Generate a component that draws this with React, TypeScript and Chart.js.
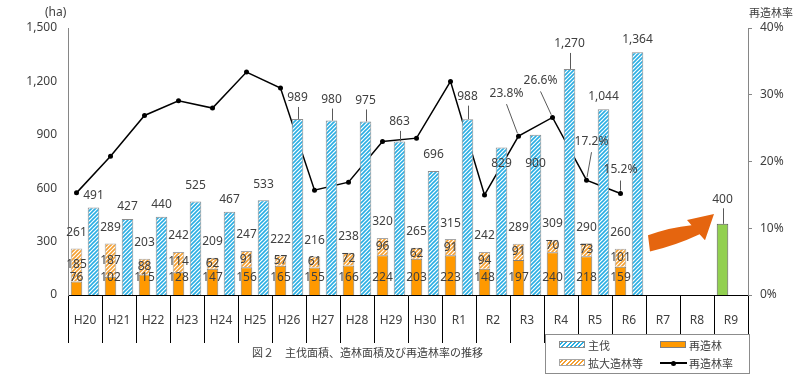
import React, { useEffect, useRef } from 'react';
import { Chart, registerables } from 'chart.js';

Chart.register(...registerables);

// ---------- data ----------
const categories = ['H20', 'H21', 'H22', 'H23', 'H24', 'H25', 'H26', 'H27', 'H28', 'H29', 'H30', 'R1', 'R2', 'R3', 'R4', 'R5', 'R6', 'R7', 'R8', 'R9'];
// 主伐 (ha)
const harvest = [491, 427, 440, 525, 467, 533, 989, 980, 975, 863, 696, 988, 829, 900, 1270, 1044, 1364, null, null, null];
// 再造林 (ha)
const reforest = [76, 102, 115, 128, 147, 156, 165, 155, 166, 224, 203, 223, 148, 197, 240, 218, 159, null, null, null];
// 拡大造林等 (ha)
const expansion = [185, 187, 88, 114, 62, 91, 57, 61, 72, 96, 62, 91, 94, 91, 70, 73, 101, null, null, null];
// 造林面積合計 (label values as printed)
const plantedTotal = [261, 289, 203, 242, 209, 247, 222, 216, 238, 320, 265, 315, 242, 289, 309, 290, 260, null, null, null];
// 目標 (R9)
const target = [null, null, null, null, null, null, null, null, null, null, null, null, null, null, null, null, null, null, null, 400];
// 再造林率 (%)
const rate = [15.3, 20.8, 26.9, 29.1, 28.0, 33.4, 31.0, 15.7, 16.9, 23.0, 23.5, 32.0, 15.0, 23.8, 26.6, 17.2, 15.2, null, null, null];
// labelled rate points
const rateLabelled = ['R3', 'R4', 'R5', 'R6'];

const leftMax = 1500;
const leftStep = 300;
const rightMax = 40;
const rightStep = 10;

// ---------- styling / placement ----------
const FONT = '"Noto Sans", "Noto Sans CJK JP", sans-serif';
const TEXT = '#404040';
const HARVEST_RAISE_DEFAULT = 12.5;
const HARVEST_RAISE: Record<string, number> = {
  H23: 15.5, H25: 16, H26: 21, H27: 21, H28: 21, H29: 19.5, H30: 17, R1: 22.5, R2: -16, R3: -29, R4: 25, R9: 24.5,
};
const RATE_LABEL_OFFSET: Record<string, [number, number]> = {
  R3: [-12, -43], R4: [-12, -37], R5: [5, -39], R6: [0, -24],
};

// Each year has two slots on a hidden category axis: the planting stack (and the
// rate point) in the first, the harvest bar in the second.
const halfSlotLabels = categories.flatMap((c) => [c + '-plant', c + '-harvest']);
const inPlantSlot = (vals: (number | null)[]) => vals.flatMap((v) => [v, null]);
const inHarvestSlot = (vals: (number | null)[]) => vals.flatMap((v) => [null, v]);
const BAR_OPTS = { xAxisID: 'xHalf', grouped: false, barPercentage: 0.68, categoryPercentage: 1 };

function hatch(ctx: CanvasRenderingContext2D, color: string) {
  const c = document.createElement('canvas');
  c.width = 4; c.height = 4;
  const g = c.getContext('2d')!;
  g.fillStyle = '#ffffff';
  g.fillRect(0, 0, 4, 4);
  g.strokeStyle = color;
  g.lineWidth = 1.6;
  g.beginPath();
  g.moveTo(0, 4); g.lineTo(4, 0);
  g.moveTo(-1, 1); g.lineTo(1, -1);
  g.moveTo(3, 5); g.lineTo(5, 3);
  g.stroke();
  return ctx.createPattern(c, 'repeat')!;
}

const labelPlugin = {
  id: 'valueLabels',
  afterDatasetsDraw(chart: any) {
    const ctx: CanvasRenderingContext2D = chart.ctx;
    const yS = chart.scales.y;
    const base = yS.getPixelForValue(0);
    const mRe = chart.getDatasetMeta(0);
    const mEx = chart.getDatasetMeta(1);
    const mTg = chart.getDatasetMeta(2);
    const mHv = chart.getDatasetMeta(3);
    const mRt = chart.getDatasetMeta(4);
    ctx.save();
    ctx.font = `12px ${FONT}`;
    ctx.fillStyle = TEXT;
    ctx.strokeStyle = '#595959';
    ctx.lineWidth = 1;
    ctx.textAlign = 'center';
    ctx.textBaseline = 'middle';

    const topLabel = (x: number, top: number, text: string, cat: string) => {
      const raise = HARVEST_RAISE[cat] ?? HARVEST_RAISE_DEFAULT;
      const cy = top - raise;
      if (raise >= 18) {
        ctx.beginPath();
        ctx.moveTo(Math.round(x) + 0.5, cy + 9);
        ctx.lineTo(Math.round(x) + 0.5, top);
        ctx.stroke();
      }
      ctx.fillText(text, x, cy);
    };

    categories.forEach((cat, i) => {
      const pi = i * 2, hi = i * 2 + 1;
      if (reforest[i] != null) {
        const bRe = mRe.data[pi];
        const bEx = mEx.data[pi];
        ctx.fillText(String(reforest[i]), bRe.x, base - 17);
        ctx.fillText(String(expansion[i]), bEx.x, (bEx.y + bEx.base) / 2);
        ctx.fillText(String(plantedTotal[i]), bEx.x, bEx.y - 16);
      }
      if (harvest[i] != null) {
        const b = mHv.data[hi];
        topLabel(b.x, b.y, (harvest[i] as number).toLocaleString('en-US'), cat);
      }
      if (target[i] != null) {
        const b = mTg.data[pi];
        topLabel(b.x, b.y, (target[i] as number).toLocaleString('en-US'), cat);
      }
      if (rateLabelled.includes(cat) && rate[i] != null) {
        const p = mRt.data[pi];
        const [dx, dy] = RATE_LABEL_OFFSET[cat];
        const lx = p.x + dx, ly = p.y + dy;
        ctx.beginPath();
        ctx.moveTo(lx, ly + 11);
        const vx = p.x - lx, vy = p.y - (ly + 11);
        const len = Math.hypot(vx, vy);
        ctx.lineTo(p.x - (vx / len) * 3, p.y - (vy / len) * 3);
        ctx.stroke();
        ctx.fillText(`${(rate[i] as number).toFixed(1)}%`, lx, ly);
      }
    });
    ctx.restore();
  },
};

const ARROW_FROM_CAT = 17; // R7
const ARROW_TO_CAT = 19;   // R9
const ARROW_FROM_VALUE = 290;
const ARROW_TO_VALUE = 455;

const arrowPlugin = {
  id: 'targetArrow',
  afterDatasetsDraw(chart: any) {
    const ctx: CanvasRenderingContext2D = chart.ctx;
    const xS = chart.scales.x, yS = chart.scales.y;
    const half = (xS.getPixelForValue(1) - xS.getPixelForValue(0)) / 2;
    const tx = xS.getPixelForValue(ARROW_FROM_CAT) - half + 2;
    const ty = yS.getPixelForValue(ARROW_FROM_VALUE);
    const px = xS.getPixelForValue(ARROW_TO_CAT) - half;
    const py = yS.getPixelForValue(ARROW_TO_VALUE);
    const sx = (px - tx) / 66, sy = (py - ty) / -29;
    const pt = (a: number, b: number): [number, number] => [tx + a * sx, ty + b * sy];
    ctx.save();
    ctx.fillStyle = '#E5650F';
    ctx.beginPath();
    let q = pt(0, -8); ctx.moveTo(q[0], q[1]);
    let c = pt(22, -16); q = pt(43.5, -18); ctx.quadraticCurveTo(c[0], c[1], q[0], q[1]);
    q = pt(39, -23); ctx.lineTo(q[0], q[1]);
    q = pt(66, -29); ctx.lineTo(q[0], q[1]);
    q = pt(57, -3); ctx.lineTo(q[0], q[1]);
    q = pt(51.6, -9); ctx.lineTo(q[0], q[1]);
    c = pt(28, 2); q = pt(2, 8); ctx.quadraticCurveTo(c[0], c[1], q[0], q[1]);
    ctx.closePath();
    ctx.fill();
    ctx.restore();
  },
};

export default function App() {
  const ref = useRef<HTMLCanvasElement>(null);

  useEffect(() => {
    const canvas = ref.current!;
    const ctx = canvas.getContext('2d')!;
    const blue = hatch(ctx, '#2AAEE3');
    const orangeHatch = hatch(ctx, '#F5A031');
    const chart = new Chart(canvas, {
      type: 'bar',
      data: {
        labels: categories,
        datasets: [
          { label: '再造林', data: inPlantSlot(reforest), stack: 'plant', backgroundColor: '#FF9900', borderColor: '#7F7F7F', borderWidth: 1, ...BAR_OPTS },
          { label: '拡大造林等', data: inPlantSlot(expansion), stack: 'plant', backgroundColor: orangeHatch, borderColor: '#A6A6A6', borderWidth: 1, ...BAR_OPTS },
          { label: '目標', data: inPlantSlot(target), stack: 'plant', backgroundColor: '#92D050', borderColor: '#595959', borderWidth: 1, ...BAR_OPTS },
          { label: '主伐', data: inHarvestSlot(harvest), stack: 'harvest', backgroundColor: blue, borderColor: '#8C8C8C', borderWidth: 1, ...BAR_OPTS },
          {
            type: 'line', label: '再造林率',
            data: inPlantSlot(rate),
            xAxisID: 'xHalf', yAxisID: 'y1',
            borderColor: '#000', backgroundColor: '#000', borderWidth: 1.5,
            pointRadius: 2.5, pointBackgroundColor: '#000', pointBorderWidth: 0,
            spanGaps: true,
          } as any,
        ],
      },
      options: {
        animation: false,
        responsive: false,
        devicePixelRatio: 1,
        layout: { padding: { top: 28, left: 0, right: 0, bottom: 0 } },
        plugins: { legend: { display: false }, tooltip: { enabled: false } },
        scales: {
          x: {
            type: 'category',
            grid: { display: true, drawOnChartArea: false, drawTicks: true, tickLength: 48, color: '#000', offset: true },
            border: { display: true, color: '#000', width: 1 },
            ticks: { color: TEXT, font: { family: FONT, size: 12 }, padding: -30, maxRotation: 0, autoSkip: false },
            afterFit: (s: any) => { s.height = 83; },
          },
          xHalf: {
            type: 'category', labels: halfSlotLabels, offset: true, display: false,
          },
          y: {
            position: 'left', stacked: true, min: 0, max: leftMax,
            grid: { display: false, drawTicks: false },
            border: { display: true, color: '#868686', width: 1 },
            ticks: {
              stepSize: leftStep, padding: 11, color: TEXT, font: { family: FONT, size: 12 },
              callback: (v: any) => Number(v).toLocaleString('en-US'),
            },
            afterFit: (s: any) => { s.width = 68; },
          },
          y1: {
            position: 'right', min: 0, max: rightMax,
            grid: { display: true, drawOnChartArea: false, drawTicks: true, tickLength: 4, color: '#868686' },
            border: { display: true, color: '#868686', width: 1 },
            ticks: {
              stepSize: rightStep, padding: 8, color: TEXT, font: { family: FONT, size: 12 },
              callback: (v: any) => `${v}%`,
            },
            afterFit: (s: any) => { s.width = 51; },
          },
        } as any,
      },
      plugins: [labelPlugin, arrowPlugin],
    });
    return () => chart.destroy();
  }, []);

  const jp = '"Noto Sans CJK JP", "Noto Sans", sans-serif';
  const txt = (left: number, top: number, s: string, size = 11, font = jp): React.ReactNode => (
    <div style={{ position: 'absolute', left, top, fontFamily: font, fontSize: size, lineHeight: '16px', color: TEXT, whiteSpace: 'nowrap' }}>{s}</div>
  );
  const sw = (left: number, top: number, bg: string, border: string) => (
    <div style={{ position: 'absolute', left, top, width: 26, height: 7, background: bg, border: `1px solid ${border}`, boxSizing: 'border-box' }} />
  );

  return (
    <div style={{ position: 'absolute', left: 0, top: 0, width: 799, height: 378, background: '#fff', overflow: 'hidden' }}>
      <canvas ref={ref} width={799} height={378} style={{ position: 'absolute', left: 0, top: 0, width: 799, height: 378 }} />
      {txt(45, 4, '(ha)', 12, FONT)}
      {txt(749, 4, '再造林率', 11)}
      {txt(252, 344, '図２　主伐面積、造林面積及び再造林率の推移', 11)}
      <div style={{ position: 'absolute', left: 545, top: 334, width: 205, height: 40, border: '1px solid #8C8C8C', boxSizing: 'border-box', background: '#fff' }}>
        {sw(13, 6, 'repeating-linear-gradient(-45deg, #2AAEE3 0 1.3px, #fff 1.3px 3px)', '#8C8C8C')}
        {txt(42, 2, '主伐')}
        {sw(114, 6, '#FF9900', '#7F7F7F')}
        {txt(143, 2, '再造林')}
        {sw(13, 24, 'repeating-linear-gradient(-45deg, #F5A031 0 1.3px, #fff 1.3px 3px)', '#A6A6A6')}
        {txt(42, 20, '拡大造林等')}
        <div style={{ position: 'absolute', left: 114, top: 27, width: 27, height: 1.5, background: '#000' }} />
        <div style={{ position: 'absolute', left: 125, top: 25.5, width: 5, height: 5, borderRadius: '50%', background: '#000' }} />
        {txt(143, 20, '再造林率')}
      </div>
    </div>
  );
}
